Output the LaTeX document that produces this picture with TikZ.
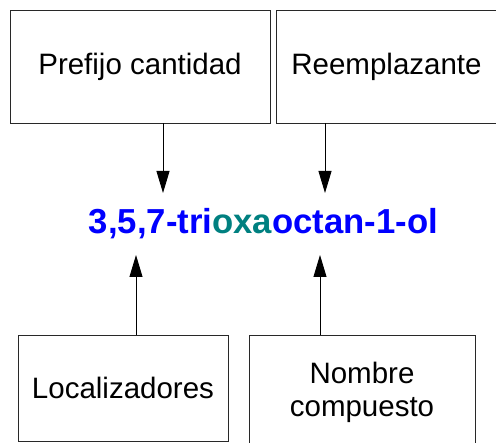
\documentclass[tikz,border=0pt]{standalone}
\usepackage{fontspec}
\setmainfont{Liberation Sans}
\usepackage{xcolor}
\usetikzlibrary{arrows.meta, positioning}
\definecolor{nameblue}{RGB}{0,0,255}
\definecolor{oxateal}{RGB}{0,128,128}
\definecolor{edgegray}{RGB}{40,40,40}

\begin{document}
\begin{tikzpicture}[
  x=1pt, y=-1pt,
  part/.style={rectangle, draw=edgegray, line width=0.8pt, inner sep=0pt,
               font=\fontsize{29.5}{33}\selectfont, align=center},
  arr/.style={-{Triangle[length=22pt, width=13pt]}, line width=0.9pt, black},
]
\clip (0,0) rectangle (496,443);

\node[part, minimum width=260pt, minimum height=113pt] (pref) at (140,66.5) {Prefijo cantidad};
\node[part, minimum width=221pt, minimum height=113pt] (reem) at (386.5,66.5) {Reemplazante};
\node[part, minimum width=210pt, minimum height=106pt] (loc) at (123,388) {Localizadores};
\node[part, minimum width=226pt, minimum height=114pt] (comp) at (362,392) {Nombre\\compuesto};

\node[anchor=base, inner sep=0pt, text=nameblue,
      font=\fontsize{34.7}{40}\selectfont\bfseries] (name) at (263.5,234)
  {3,5,7-tri\textcolor{oxateal}{oxa}octan-1-ol};

% arrow tips at the formula
\coordinate (tpref) at (163,193);
\coordinate (treem) at (325,193);
\coordinate (tloc) at (136,255);
\coordinate (tcomp) at (320,255);

\draw[arr] (pref.south -| tpref) -- (tpref);
\draw[arr] (reem.south -| treem) -- (treem);
\draw[arr] (loc.north -| tloc) -- (tloc);
\draw[arr] (comp.north -| tcomp) -- (tcomp);

\end{tikzpicture}
\end{document}
